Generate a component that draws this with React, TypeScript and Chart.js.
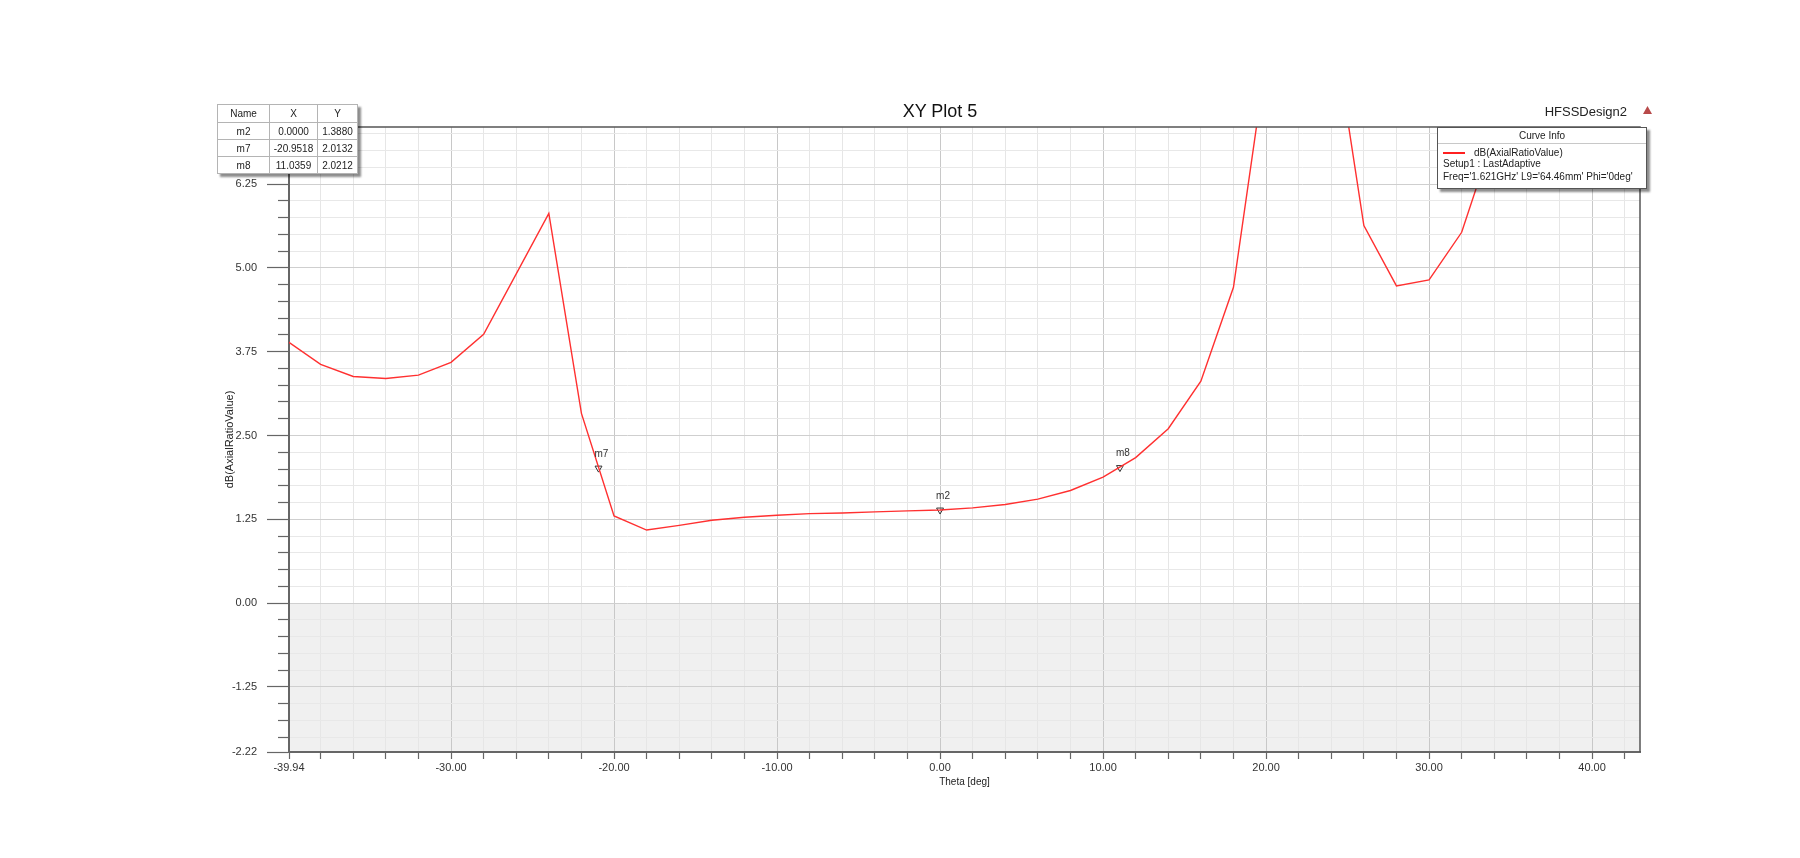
import React, { useEffect, useRef } from 'react';
import { Chart, registerables } from 'chart.js';

Chart.register(...registerables);

// ---- data ----
const thetaDeg = [-40, -38, -36, -34, -32, -30, -28, -26, -24, -22, -20, -18, -16, -14, -12, -10, -8, -6, -4, -2, 0, 2, 4, 6, 8, 10, 12, 14, 16, 18, 20, 22, 24, 26, 28, 30, 32, 34, 36, 38, 40];
const axialRatioDb = [3.90, 3.56, 3.38, 3.35, 3.40, 3.59, 4.01, 4.91, 5.81, 2.83, 1.30, 1.09, 1.16, 1.235, 1.28, 1.31, 1.335, 1.345, 1.36, 1.375, 1.388, 1.42, 1.47, 1.55, 1.68, 1.88, 2.17, 2.60, 3.31, 4.71, 8.10, 12.5, 8.80, 5.63, 4.73, 4.82, 5.53, 7.0, 8.4, 9.8, 11.0];

const markerNames = ['m2', 'm7', 'm8'];
const markerTheta = [0.0, -20.9518, 11.0359];
const markerValue = [1.388, 2.0132, 2.0212];

const xLabelTicks = [-39.94, -30, -20, -10, 0, 10, 20, 30, 40];
const yLabelTicks = [-2.22, -1.25, 0, 1.25, 2.5, 3.75, 5, 6.25];
const xRange = [-39.94, 42.94];
const yRange = [-2.22, 7.1];
const xMinorStep = 2;
const yMinorStep = 0.25;

const FONT = 'Arial, "Liberation Sans", sans-serif';

const near = (list: number[], v: number) => list.some((t) => Math.abs(t - v) < 1e-6);

function buildXTicks() {
  const out = [xRange[0]];
  for (let k = Math.ceil(xRange[0] / xMinorStep); k * xMinorStep <= xRange[1] + 1e-9; k++) {
    const v = k * xMinorStep;
    if (v > xRange[0] + 1e-6) out.push(v);
  }
  return out;
}
function buildYTicks() {
  const out = [yRange[0]];
  for (let k = Math.ceil(yRange[0] / yMinorStep); k * yMinorStep <= yRange[1] + 1e-9; k++) {
    const v = k * yMinorStep;
    if (v > yRange[0] + 1e-6) out.push(v);
  }
  return out;
}

const shadePlugin = {
  id: 'shadeBelowZero',
  beforeDraw(chart: any) {
    const { ctx, chartArea } = chart;
    const y0 = chart.scales.y.getPixelForValue(0);
    ctx.save();
    ctx.fillStyle = '#f0f0f0';
    ctx.fillRect(chartArea.left, y0, chartArea.right - chartArea.left, chartArea.bottom - y0);
    ctx.restore();
  },
};

const framePlugin = {
  id: 'frame',
  afterDraw(chart: any) {
    const { ctx, chartArea } = chart;
    ctx.save();
    ctx.strokeStyle = '#555';
    ctx.lineWidth = 1.5;
    ctx.beginPath();
    ctx.moveTo(chartArea.left, chartArea.top);
    ctx.lineTo(chartArea.right, chartArea.top);
    ctx.lineTo(chartArea.right, chartArea.bottom);
    ctx.stroke();
    ctx.restore();
  },
};

const markerLabelPlugin = {
  id: 'markerLabels',
  afterDatasetsDraw(chart: any) {
    const { ctx } = chart;
    const xs = chart.scales.x;
    const ys = chart.scales.y;
    ctx.save();
    ctx.font = `10px ${FONT}`;
    ctx.fillStyle = '#333';
    ctx.textAlign = 'left';
    ctx.textBaseline = 'middle';
    markerNames.forEach((n, i) => {
      const px = xs.getPixelForValue(markerTheta[i]);
      const py = ys.getPixelForValue(markerValue[i]);
      ctx.fillText(n, px - 4, py - 14);
    });
    ctx.restore();
  },
};

function ChartCanvas() {
  const ref = useRef<HTMLCanvasElement | null>(null);
  useEffect(() => {
    if (!ref.current) return;
    Chart.defaults.font.family = FONT;
    const xTicks = buildXTicks();
    const yTicks = buildYTicks();
    const chart = new Chart(ref.current, {
      type: 'line',
      data: {
        datasets: [
          {
            label: 'dB(AxialRatioValue)',
            data: thetaDeg.map((t, i) => ({ x: t, y: axialRatioDb[i] })),
            borderColor: '#ff3030',
            borderWidth: 1.4,
            pointRadius: 0,
            tension: 0,
            fill: false,
          },
          {
            label: 'markers',
            data: markerTheta.map((t, i) => ({ x: t, y: markerValue[i] })),
            showLine: false,
            pointStyle: 'triangle',
            rotation: 180,
            pointRadius: 4,
            borderWidth: 1,
            borderColor: '#333',
            backgroundColor: 'rgba(255,255,255,0)',
          },
        ],
      },
      options: {
        animation: false,
        responsive: false,
        maintainAspectRatio: false,
        layout: { padding: { left: 0, top: 127, right: 160, bottom: 0 } },
        plugins: {
          legend: { display: false },
          tooltip: { enabled: false },
          title: { display: false },
        },
        scales: {
          x: {
            type: 'linear',
            min: xRange[0],
            max: xRange[1],
            afterBuildTicks: (s: any) => {
              s.ticks = xTicks.map((v) => ({ value: v }));
            },
            afterFit: (s: any) => {
              s.height = 106;
            },
            ticks: {
              autoSkip: false,
              maxRotation: 0,
              minRotation: 0,
              padding: 2,
              color: '#333',
              font: { size: 11, family: FONT },
              callback: (v: any) => (near(xLabelTicks, Number(v)) ? Number(v).toFixed(2) : ''),
            },
            grid: {
              color: (c: any) => (c.tick && Math.abs(c.tick.value % 10) < 1e-6 ? '#c8c8c8' : '#e6e6e6'),
              lineWidth: 1,
              drawTicks: true,
              tickLength: 7,
              tickColor: '#666',
              tickWidth: 1.2,
            },
            border: { display: true, color: '#666', width: 2 },
            title: {
              display: true,
              text: 'Theta [deg]',
              color: '#222',
              font: { size: 10, family: FONT },
              padding: { top: 0, bottom: 70 },
            },
          },
          y: {
            type: 'linear',
            min: yRange[0],
            max: yRange[1],
            afterBuildTicks: (s: any) => {
              s.ticks = yTicks.map((v) => ({ value: v }));
            },
            afterFit: (s: any) => {
              s.width = 289;
            },
            ticks: {
              autoSkip: false,
              padding: 10,
              color: '#333',
              font: { size: 11, family: FONT },
              callback: (v: any) => (near(yLabelTicks, Number(v)) ? Number(v).toFixed(2) : ''),
            },
            grid: {
              color: (c: any) => (c.tick && near(yLabelTicks, c.tick.value) ? '#cfcfcf' : '#e8e8e8'),
              lineWidth: 1,
              drawTicks: true,
              tickLength: 22,
              tickColor: '#666',
              tickWidth: 1.2,
              tickBorderDash: (c: any) => (c.tick && near(yLabelTicks, c.tick.value) ? [] : [11, 11]),
              tickBorderDashOffset: (c: any) => (c.tick && near(yLabelTicks, c.tick.value) ? 0 : 11),
            },
            border: { display: true, color: '#666', width: 2 },
            title: {
              display: true,
              text: 'dB(AxialRatioValue)',
              color: '#222',
              font: { size: 11, family: FONT },
              padding: { top: 223, bottom: 0 },
            },
          },
        },
      } as any,
      plugins: [shadePlugin, framePlugin, markerLabelPlugin],
    });
    return () => chart.destroy();
  }, []);
  return (
    <canvas
      ref={ref}
      width={1800}
      height={858}
      style={{ position: 'absolute', left: 0, top: 0, display: 'block' }}
    />
  );
}

const cell: React.CSSProperties = {
  border: '1px solid #b4b4b4',
  padding: 0,
  height: 16,
  textAlign: 'center',
  fontWeight: 'normal',
  whiteSpace: 'nowrap',
};

export default function App() {
  return (
    <div
      style={{
        position: 'absolute',
        left: 0,
        top: 0,
        width: 1800,
        height: 858,
        background: '#fff',
        overflow: 'hidden',
        fontFamily: FONT,
      }}
    >
      <ChartCanvas />
      {/* Title */}
      <div
        style={{
          position: 'absolute',
          left: 940,
          top: 111,
          transform: 'translate(-50%, -50%)',
          fontSize: 18,
          color: '#111',
          whiteSpace: 'nowrap',
        }}
      >
        XY Plot 5
      </div>
      {/* Design name */}
      <div
        style={{
          position: 'absolute',
          right: 1800 - 1627,
          top: 111,
          transform: 'translateY(-50%)',
          fontSize: 13,
          color: '#222',
          whiteSpace: 'nowrap',
        }}
      >
        HFSSDesign2
      </div>
      <div
        style={{
          position: 'absolute',
          left: 1643,
          top: 106,
          width: 9,
          height: 8,
          background: '#b84a4a',
          clipPath: 'polygon(50% 0, 100% 100%, 0 100%)',
        }}
      />
      {/* Marker table */}
      <div
        style={{
          position: 'absolute',
          left: 217,
          top: 104,
          background: '#fff',
          boxShadow: '3px 3px 2px rgba(0,0,0,0.45)',
        }}
      >
        <table
          style={{
            borderCollapse: 'collapse',
            tableLayout: 'fixed',
            width: 140,
            fontSize: 10,
            color: '#222',
            border: '1.5px solid #555',
          }}
        >
          <colgroup>
            <col style={{ width: 52 }} />
            <col style={{ width: 48 }} />
            <col style={{ width: 40 }} />
          </colgroup>
          <thead>
            <tr>
              <th style={{ ...cell, height: 17 }}>Name</th>
              <th style={{ ...cell, height: 17 }}>X</th>
              <th style={{ ...cell, height: 17 }}>Y</th>
            </tr>
          </thead>
          <tbody>
            {markerNames.map((n, i) => (
              <tr key={n}>
                <td style={cell}>{n}</td>
                <td style={cell}>{markerTheta[i].toFixed(4)}</td>
                <td style={cell}>{markerValue[i].toFixed(4)}</td>
              </tr>
            ))}
          </tbody>
        </table>
      </div>
      {/* Curve info legend */}
      <div
        style={{
          position: 'absolute',
          left: 1437,
          top: 127,
          width: 208,
          height: 60,
          background: '#fff',
          border: '1px solid #555',
          boxShadow: '3px 3px 2px rgba(0,0,0,0.45)',
          fontSize: 10,
          color: '#222',
          whiteSpace: 'nowrap',
        }}
      >
        <div
          style={{
            position: 'absolute',
            left: 0,
            top: 0,
            width: '100%',
            height: 15,
            lineHeight: '15px',
            textAlign: 'center',
            borderBottom: '1px solid #c8c8c8',
          }}
        >
          Curve Info
        </div>
        <div style={{ position: 'absolute', left: 5, top: 24, width: 22, height: 2, background: '#ff2020' }} />
        <div style={{ position: 'absolute', left: 36, top: 19, lineHeight: '12px' }}>dB(AxialRatioValue)</div>
        <div style={{ position: 'absolute', left: 5, top: 30, lineHeight: '12px' }}>Setup1 : LastAdaptive</div>
        <div style={{ position: 'absolute', left: 5, top: 43, lineHeight: '12px' }}>
          Freq='1.621GHz' L9='64.46mm' Phi='0deg'
        </div>
      </div>
    </div>
  );
}
